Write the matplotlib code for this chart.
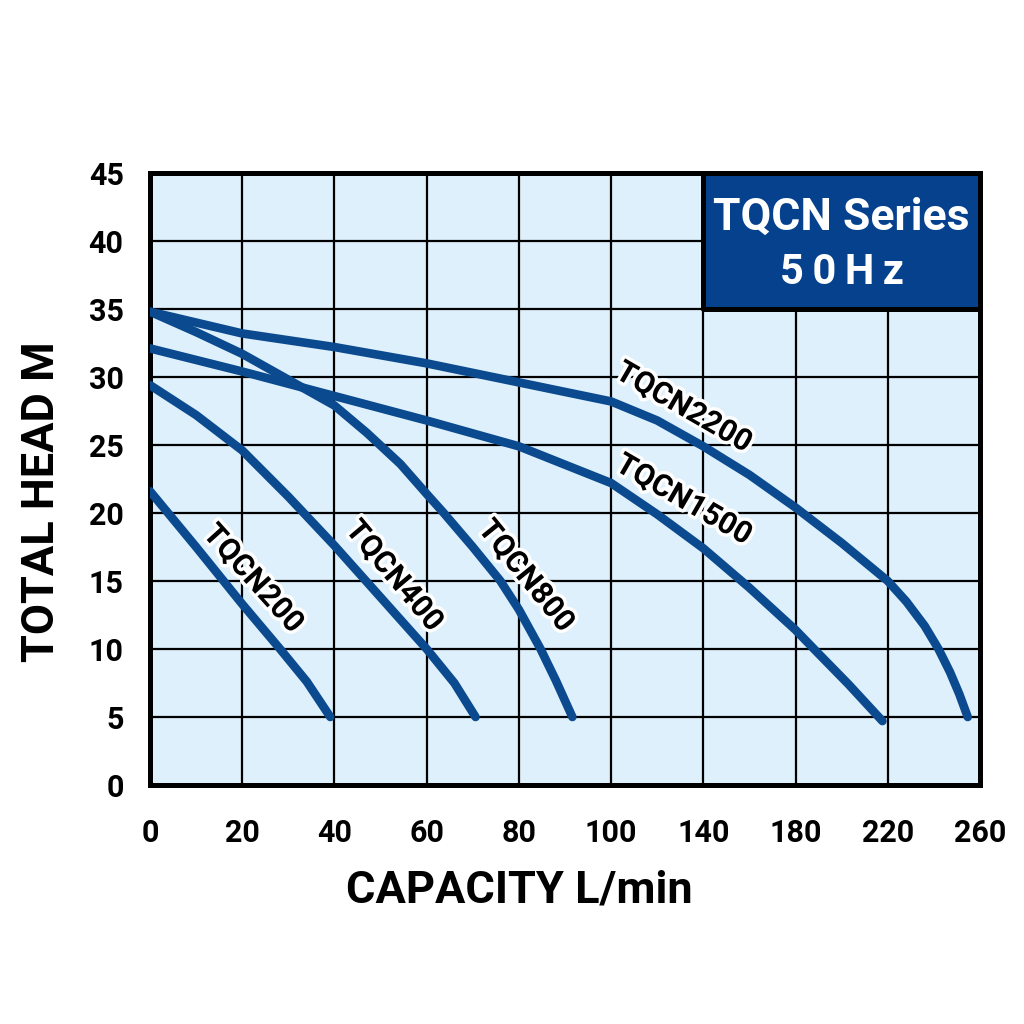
import matplotlib.pyplot as plt
import matplotlib.patheffects as pe
import numpy as np

# ejes: la escala x no es lineal (0..100 de 20 en 20, luego de 40 en 40)
x_ticks = [0, 20, 40, 60, 80, 100, 140, 180, 220, 260]
y_ticks = [0, 5, 10, 15, 20, 25, 30, 35, 40, 45]

# curvas (caudal L/min, altura m)
q200 = [0, 10, 20, 28.2, 34, 39.1]
h200 = [21.6, 17.5, 13.3, 10.0, 7.6, 5.0]

q400 = [0, 10, 20, 30, 40, 50, 60, 66, 70.6]
h400 = [29.4, 27.2, 24.6, 21.2, 17.6, 13.8, 10.0, 7.5, 5.0]

q800 = [0, 10, 20, 30, 40, 47, 54.3, 60, 63.7, 70, 76, 80, 84.7, 88, 91.6]
h800 = [34.8, 33.3, 31.7, 29.8, 27.9, 25.9, 23.6, 21.4, 20.0, 17.5, 15.0, 12.9, 10.0, 7.7, 5.0]

q1500 = [0, 20, 40, 60, 80, 100, 120, 140, 160, 180, 188, 203, 217.7]
h1500 = [32.1, 30.4, 28.6, 26.8, 24.9, 22.2, 19.9, 17.4, 14.5, 11.4, 10.0, 7.4, 4.7]

q2200 = [0, 20, 40, 60, 80, 100, 120, 140, 160, 180, 200, 220, 228, 236, 242, 247, 251, 254.7]
h2200 = [34.8, 33.2, 32.2, 31.0, 29.6, 28.2, 26.8, 24.9, 22.8, 20.4, 17.8, 15.0, 13.5, 11.7, 10.0, 8.3, 6.7, 5.0]

curvas = [(q200, h200), (q400, h400), (q800, h800), (q1500, h1500), (q2200, h2200)]

# etiquetas: texto, posicion (L/min, m), rotacion
etiquetas = [
    ("TQCN200", 22.4, 15.2, -48),
    ("TQCN400", 53, 15.4, -50),
    ("TQCN800", 81.6, 15.4, -51),
    ("TQCN2200", 131.5, 27.8, -30),
    ("TQCN1500", 131.5, 21.0, -30),
]

idx = np.arange(len(x_ticks))


def fwd(v):
    return np.interp(v, x_ticks, idx)


def inv(v):
    return np.interp(v, idx, x_ticks)


azul = "#0b4a8e"
fondo = "#ddf0fb"
letra = ["Roboto", "DejaVu Sans"]

fig = plt.figure(figsize=(10.24, 10.24), dpi=100)
ax = fig.add_axes([0.1465, 0.2334, 0.8105, 0.5977])
ax.set_facecolor(fondo)
ax.set_xscale("function", functions=(fwd, inv))
ax.set_xlim(0, 260)
ax.set_ylim(0, 45)
ax.set_xticks(x_ticks)
ax.set_yticks(y_ticks)
ax.set_xticklabels([str(v) for v in x_ticks], family=letra, weight="bold", fontsize=22)
ax.set_yticklabels([str(v) for v in y_ticks], family=letra, weight="bold", fontsize=22)
ax.tick_params(length=0, pad=19)
ax.tick_params(axis="x", pad=24)
ax.grid(True, color="black", linewidth=1.6)
ax.set_axisbelow(True)
for s in ax.spines.values():
    s.set_linewidth(3.6)

for q, h in curvas:
    ax.plot(q, h, color=azul, linewidth=6.2, solid_capstyle="round", solid_joinstyle="round", zorder=3)

for txt, xq, yh, rot in etiquetas:
    ax.text(xq, yh, txt, rotation=rot, rotation_mode="anchor", ha="center", va="center",
            fontsize=22, weight="bold", family=letra, zorder=4,
            path_effects=[pe.withStroke(linewidth=5, foreground="white")])

# recuadro del titulo
ax.fill_between([140, 260], 35, 45, color="#06418e", edgecolor="black", linewidth=3.6, zorder=5)
ax.text(200, 41.7, "TQCN Series", color="white", ha="center", va="center",
        fontsize=32, weight="bold", family=letra, zorder=6)
ax.text(200, 37.7, "5 0 H z".replace(" ", "\u2009"), color="white", ha="center", va="center",
        fontsize=30, weight="bold", family=letra, zorder=6)

ax.set_xlabel("CAPACITY L/min", family=letra, weight="bold", fontsize=32.5)
ax.set_ylabel("TOTAL HEAD M", family=letra, weight="bold", fontsize=32.5)
ax.xaxis.set_label_coords((519 - 150) / 829, -(890 - 785) / 612)
ax.yaxis.set_label_coords((42 - 150) / 829, (785 - 502) / 612)
ax.xaxis.label.set_va("center")
ax.yaxis.label.set_va("center")

plt.savefig("out.png")
